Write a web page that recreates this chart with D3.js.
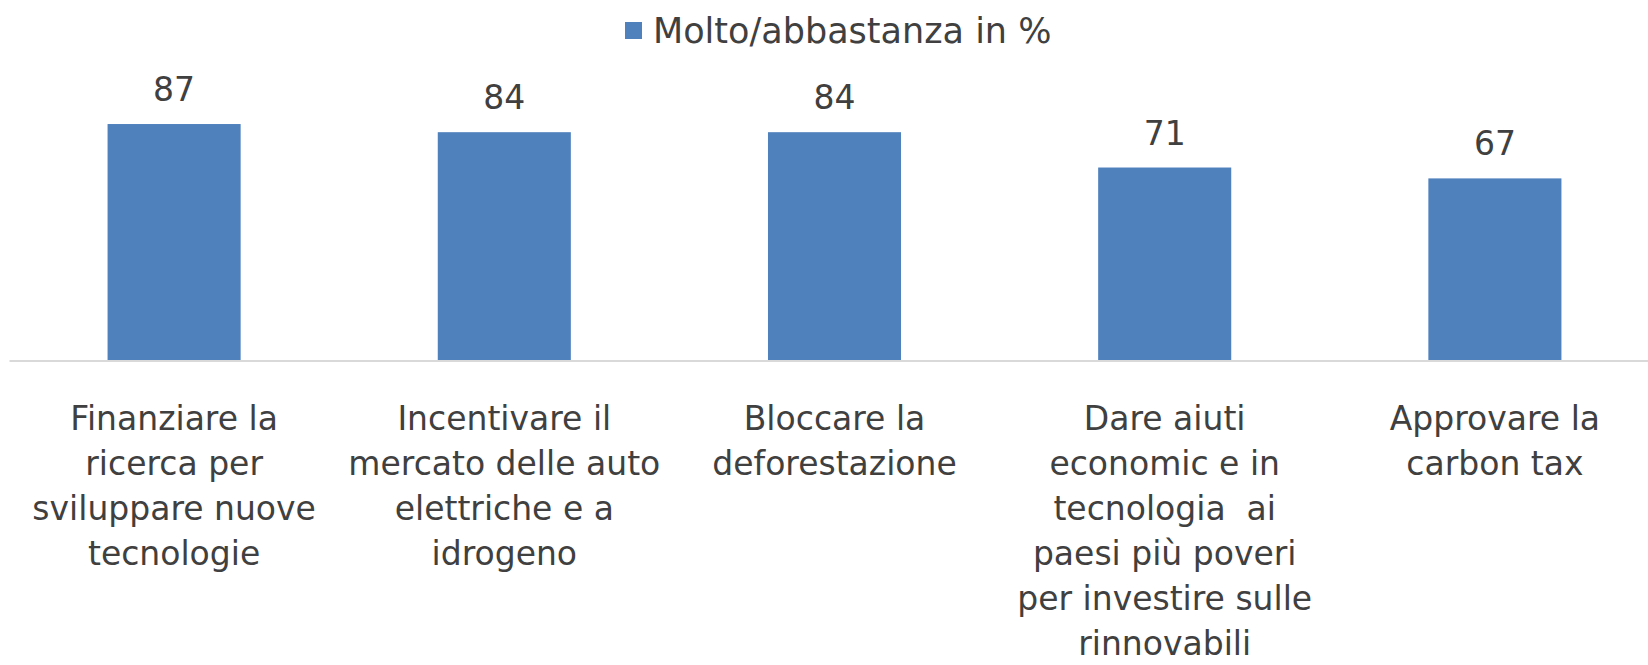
<!DOCTYPE html>
<html>
<head>
<meta charset="utf-8">
<script src="https://cdn.jsdelivr.net/npm/d3@7"></script>
<style>
  html, body { margin: 0; padding: 0; background: #ffffff; }
  svg { display: block; }
  text { font-family: "DejaVu Sans", sans-serif; fill: #404040; white-space: pre; }
</style>
</head>
<body>
<svg id="chart" width="1648" height="665"></svg>
<script>
// Survey categories (line breaks as shown under each bar)
const categories = [
  "Finanziare la\nricerca per\nsviluppare nuove\ntecnologie",
  "Incentivare il\nmercato delle auto\nelettriche e a\nidrogeno",
  "Bloccare la\ndeforestazione",
  "Dare aiuti\neconomic e in\ntecnologia  ai\npaesi più poveri\nper investire sulle\nrinnovabili",
  "Approvare la\ncarbon tax"
];
const values = [87, 84, 84, 71, 67];
const seriesName = "Molto/abbastanza in %";

const W = 1648, H = 665;
const baseY = 360.5;
const barColor = "#4f81bd";

const svg = d3.select("#chart");

const x = d3.scaleBand()
  .domain(categories)
  .range([9, 1660])
  .paddingInner(0.597)
  .paddingOuter(0.2985);

const y = d3.scaleLinear()
  .domain([0, 100])
  .range([baseY, 88.7]);

// Bars
svg.append("g")
  .selectAll("rect")
  .data(values)
  .join("rect")
  .attr("x", (d, i) => x(categories[i]))
  .attr("y", d => y(d))
  .attr("width", x.bandwidth())
  .attr("height", d => y(0) - y(d))
  .attr("fill", barColor);

// Value labels
svg.append("g")
  .selectAll("text")
  .data(values)
  .join("text")
  .attr("x", (d, i) => x(categories[i]) + x.bandwidth() / 2)
  .attr("y", d => y(d) - 23)
  .attr("text-anchor", "middle")
  .style("font-size", "33px")
  .text(d => d);

// Category axis
const xAxis = d3.axisBottom(x).tickSize(0).tickFormat("");
const axisG = svg.append("g")
  .attr("transform", `translate(0,${baseY})`)
  .call(xAxis);
axisG.select(".domain").attr("stroke", "#d9d9d9").attr("stroke-width", 2);

// Multi-line category labels
const lineStep = 45;
axisG.selectAll(".tick").each(function(cat) {
  const lines = cat.split("\n");
  const t = d3.select(this).append("text")
    .attr("text-anchor", "middle")
    .style("font-size", "33px")
    .attr("y", 0);
  lines.forEach((ln, k) => {
    t.append("tspan")
      .attr("x", 0)
      .attr("y", 69.5 + k * lineStep)
      .text(ln);
  });
});

// Legend
const legend = svg.append("g").attr("transform", "translate(625,22)");
legend.append("rect")
  .attr("width", 17).attr("height", 17)
  .attr("fill", barColor);
legend.append("text")
  .attr("x", 28)
  .attr("y", 21)
  .style("font-size", "35px")
  .text(seriesName);
</script>
</body>
</html>
